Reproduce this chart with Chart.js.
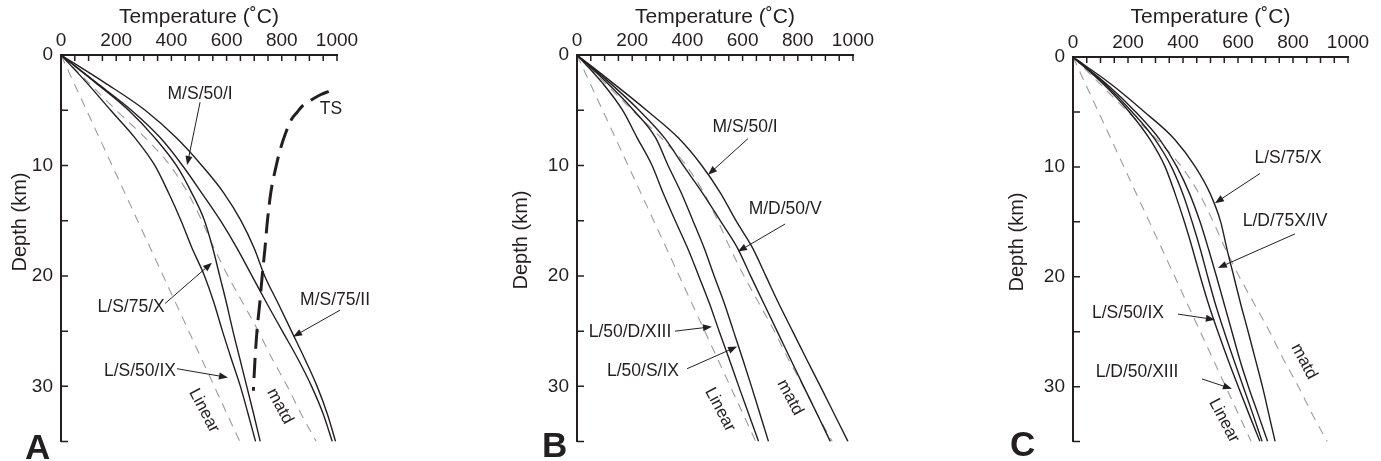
<!DOCTYPE html>
<html>
<head>
<meta charset="utf-8">
<script src="https://cdn.jsdelivr.net/npm/chart.js@4.4.1/dist/chart.umd.min.js"></script>
<style>
  html, body { margin: 0; padding: 0; background: #fff; }
  #wrap { position: relative; width: 1381px; height: 461px; overflow: hidden; }
  .panel { position: absolute; top: 0; height: 461px; }
</style>
</head>
<body>
<div id="wrap">
  <div class="panel" style="left:0;width:460px"><canvas id="chartA"></canvas></div>
  <div class="panel" style="left:460px;width:460px"><canvas id="chartB"></canvas></div>
  <div class="panel" style="left:920px;width:461px"><canvas id="chartC"></canvas></div>
</div>
<script>
const FONT = "'Liberation Sans', Arial, Helvetica, sans-serif";
const INK = '#231f20';
const GREY = '#9b9b9b';

// depth in km, shared by the model geotherms
const depthKm = [0, 2.5, 5, 7.5, 10, 12.5, 15, 17.5, 20, 22.5, 25, 27.5, 30, 32.5, 35];

// reference geotherms (same in every panel)
const linearDepth = [0, 35];
const linearTemp = [0, 648];
const matdTemp = [0, 100, 200, 305, 395, 460, 510, 555, 605, 660, 715, 765, 820, 870, 925];

// panel A
const aLS50IX = [0, 93, 180, 268, 340, 390, 435, 475, 520, 555, 585, 617, 650, 678, 705];
const aLS75X = [0, 125, 245, 340, 418, 474, 520, 550, 575, 600, 623, 648, 673, 698, 722];
const aMS50I = [0, 128, 255, 360, 440, 510, 578, 638, 692, 746, 802, 858, 908, 950, 983];
const aMS75II = [0, 158, 305, 418, 510, 590, 652, 700, 738, 787, 835, 883, 928, 965, 995];
const tsDepth = [3.3, 3.6, 4.1, 4.6, 5.2, 5.8, 7, 8.5, 10, 12.5, 15, 17.5, 20, 22.5, 25, 27.5, 30.4];
const tsTemp = [970, 940, 905, 875, 855, 836, 815, 795, 780, 760, 748, 739, 729, 720, 710, 703, 697];

// panel B
const bL50DXIII = [0, 91, 165, 218, 272, 312, 356, 401, 441, 480, 515, 551, 586, 622, 658];
const bL50SIX = [0, 108, 205, 285, 330, 378, 420, 461, 497, 534, 567, 600, 632, 663, 694];
const bMD50V = [0, 118, 225, 317, 385, 455, 519, 582, 629, 677, 725, 773, 821, 870, 918];
const bMS50I = [0, 128, 252, 367, 452, 520, 576, 637, 684, 731, 781, 831, 882, 932, 982];

// panel C
const cLD50XIII = [0, 112, 205, 280, 335, 372, 405, 435, 463, 493, 527, 563, 601, 640, 680];
const cLS50IX = [0, 118, 215, 298, 358, 400, 433, 463, 490, 518, 550, 584, 619, 654, 688];
const cLD75XIV = [0, 124, 228, 315, 378, 425, 462, 493, 522, 550, 578, 606, 638, 673, 708];
const cLS75X = [0, 140, 260, 370, 445, 500, 537, 560, 585, 610, 637, 663, 689, 712, 735];

function pts(depths, temps) {
  return temps.map((t, i) => ({ x: t, y: depths[i] }));
}

function solid(temps, depths) {
  return { data: pts(depths || depthKm, temps), borderColor: INK, borderWidth: 1.4,
    pointRadius: 0, cubicInterpolationMode: 'monotone', fill: false };
}

function refLine(temps, depths) {
  return { data: pts(depths || depthKm, temps), borderColor: GREY, borderWidth: 1.1,
    borderDash: [9, 7], pointRadius: 0, cubicInterpolationMode: 'monotone', fill: false };
}

function arrow(ctx, x1, y1, x2, y2) {
  const a = Math.atan2(y2 - y1, x2 - x1);
  const L = 9, W = 3.5;
  ctx.beginPath();
  ctx.moveTo(x1, y1);
  ctx.lineTo(x2 - L * 0.7 * Math.cos(a), y2 - L * 0.7 * Math.sin(a));
  ctx.stroke();
  ctx.beginPath();
  ctx.moveTo(x2, y2);
  ctx.lineTo(x2 - L * Math.cos(a) + W * Math.sin(a), y2 - L * Math.sin(a) - W * Math.cos(a));
  ctx.lineTo(x2 - L * Math.cos(a) - W * Math.sin(a), y2 - L * Math.sin(a) + W * Math.cos(a));
  ctx.closePath();
  ctx.fill();
}

// inward ticks, curve labels, arrows, panel letter, depth title
const annotate = {
  id: 'annotate',
  afterDraw(chart) {
    const note = chart.options.plugins.annotate;
    const { ctx, chartArea: area, scales: { x, y } } = chart;
    ctx.save();
    ctx.strokeStyle = INK;
    ctx.fillStyle = INK;

    ctx.lineWidth = 1.5;
    ctx.beginPath();
    x.ticks.forEach(t => {
      const px = x.getPixelForValue(t.value);
      ctx.moveTo(px, area.top);
      ctx.lineTo(px, area.top + 6);
    });
    y.ticks.forEach(t => {
      if (t.value === 0) return;
      const py = y.getPixelForValue(t.value);
      ctx.moveTo(area.left, py);
      ctx.lineTo(area.left + 7, py);
    });
    ctx.stroke();

    ctx.font = '17.5px ' + FONT;
    ctx.textAlign = 'center';
    ctx.textBaseline = 'middle';
    note.labels.forEach(l => {
      ctx.fillText(l.text, x.getPixelForValue(l.t), y.getPixelForValue(l.d));
    });

    ctx.lineWidth = 1;
    note.arrows.forEach(a => {
      arrow(ctx, x.getPixelForValue(a[0]), y.getPixelForValue(a[1]),
        x.getPixelForValue(a[2]), y.getPixelForValue(a[3]));
    });

    ctx.font = '17px ' + FONT;
    note.slanted.forEach(l => {
      ctx.save();
      ctx.translate(x.getPixelForValue(l.t), y.getPixelForValue(l.d));
      ctx.rotate(l.angle * Math.PI / 180);
      ctx.fillText(l.text, 0, 0);
      ctx.restore();
    });

    ctx.save();
    ctx.font = '20px ' + FONT;
    ctx.translate(note.depthTitle[0], note.depthTitle[1]);
    ctx.rotate(-Math.PI / 2);
    ctx.fillText('Depth (km)', 0, 0);
    ctx.restore();

    ctx.font = 'bold 35px ' + FONT;
    ctx.textAlign = 'left';
    ctx.textBaseline = 'alphabetic';
    ctx.fillText(note.letter, note.letterAt[0], note.letterAt[1]);
    ctx.restore();
  }
};

function makePanel(id, datasets, geom, note) {
  return new Chart(document.getElementById(id), {
    type: 'line',
    data: { datasets },
    options: {
      responsive: true,
      maintainAspectRatio: false,
      animation: false,
      layout: { padding: { left: 0, top: 0, right: geom.padRight, bottom: geom.padBottom } },
      plugins: { legend: { display: false }, tooltip: { enabled: false }, annotate: note },
      scales: {
        x: {
          type: 'linear', position: 'top', min: 0, max: 1000,
          ticks: { stepSize: 50, autoSkip: false, maxRotation: 0, padding: 3, color: INK,
            font: { family: FONT, size: 19 }, callback: v => (v % 200 === 0 ? v : '') },
          grid: { drawOnChartArea: false, drawTicks: false },
          border: { color: INK, width: 2 },
          title: { display: true, text: 'Temperature (˚C)', color: INK,
            font: { family: FONT, size: 21 }, padding: { top: 5, bottom: 0 } },
          afterFit: s => { s.height = geom.top; }
        },
        y: {
          type: 'linear', reverse: true, min: 0, max: 35,
          ticks: { stepSize: 5, autoSkip: false, padding: 8, color: INK,
            font: { family: FONT, size: 19 }, callback: v => (v % 10 === 0 ? v : '') },
          grid: { drawOnChartArea: false, drawTicks: false },
          border: { color: INK, width: 2 },
          afterFit: s => { s.width = geom.left; }
        }
      }
    },
    plugins: [annotate]
  });
}

makePanel('chartA', [
  solid(aLS50IX), solid(aLS75X), solid(aMS50I), solid(aMS75II),
  { data: pts(tsDepth, tsTemp), borderColor: INK, borderWidth: 3, borderDash: [20, 9],
    pointRadius: 0, cubicInterpolationMode: 'monotone', fill: false },
  refLine(linearTemp, linearDepth), refLine(matdTemp)
], { left: 61, top: 55, padRight: 123, padBottom: 12 }, {
  labels: [
    { text: 'M/S/50/I', t: 504, d: 3.56 },
    { text: 'TS', t: 978, d: 4.9 },
    { text: 'L/S/75/X', t: 254, d: 22.8 },
    { text: 'M/S/75/II', t: 993, d: 22.2 },
    { text: 'L/S/50/IX', t: 286, d: 28.6 }
  ],
  arrows: [[504, 4.27, 457, 9.96], [377, 22.5, 547, 18.8], [1011, 23.1, 841, 25.5], [420, 28.4, 605, 29.2]],
  slanted: [{ text: 'Linear', t: 518, d: 32.2, angle: 62 }, { text: 'matd', t: 793, d: 31.8, angle: 62 }],
  depthTitle: [20, 222],
  letter: 'A', letterAt: [25, 459]
});

makePanel('chartB', [
  solid(bL50DXIII), solid(bL50SIX), solid(bMD50V), solid(bMS50I),
  refLine(linearTemp, linearDepth), refLine(matdTemp)
], { left: 117, top: 55, padRight: 67, padBottom: 12 }, {
  labels: [
    { text: 'M/S/50/I', t: 609, d: 6.5 },
    { text: 'M/D/50/V', t: 754, d: 14.0 },
    { text: 'L/50/D/XIII', t: 192, d: 25.1 },
    { text: 'L/50/S/IX', t: 239, d: 28.6 }
  ],
  arrows: [[620, 7.56, 475, 10.84], [754, 15.3, 583, 17.8], [355, 25.0, 489, 24.6], [399, 28.4, 580, 26.4]],
  slanted: [{ text: 'Linear', t: 518, d: 32.1, angle: 62 }, { text: 'matd', t: 772, d: 31.0, angle: 62 }],
  depthTitle: [61.5, 240],
  letter: 'B', letterAt: [82, 457]
});

makePanel('chartC', [
  solid(cLD50XIII), solid(cLS50IX), solid(cLD75XIV), solid(cLS75X),
  refLine(linearTemp, linearDepth), refLine(matdTemp)
], { left: 153, top: 57, padRight: 33, padBottom: 9 }, {
  labels: [
    { text: 'L/S/75/X', t: 782, d: 9.2 },
    { text: 'L/D/75X/IV', t: 771, d: 14.9 },
    { text: 'L/S/50/IX', t: 200, d: 23.3 },
    { text: 'L/D/50/XIII', t: 233, d: 28.7 }
  ],
  arrows: [[680, 10.6, 516, 13.3], [807, 16.1, 527, 19.2], [382, 23.4, 516, 23.9], [469, 29.3, 578, 30.2]],
  slanted: [{ text: 'Linear', t: 549, d: 33.1, angle: 62 }, { text: 'matd', t: 840, d: 27.7, angle: 62 }],
  depthTitle: [97.5, 242],
  letter: 'C', letterAt: [90, 456]
});
</script>
</body>
</html>
